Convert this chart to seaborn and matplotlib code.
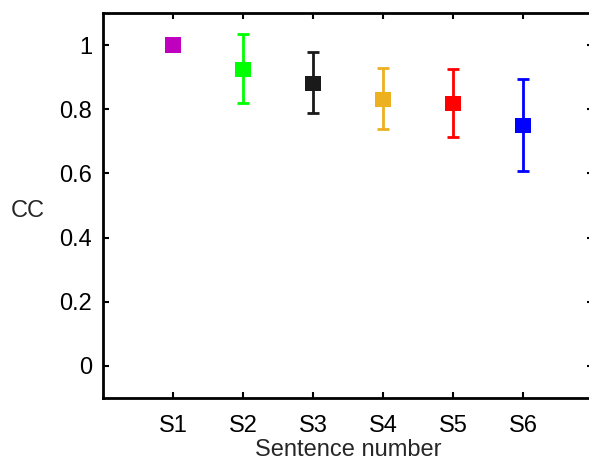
import matplotlib
matplotlib.use("Agg")
import matplotlib.pyplot as plt
import seaborn as sns
import pandas as pd
import numpy as np

sentences = ["S1", "S2", "S3", "S4", "S5", "S6"]
cc_mean = [1.0, 0.925, 0.881, 0.831, 0.819, 0.75]
cc_upper = [1.0, 1.034, 0.978, 0.928, 0.925, 0.894]
cc_lower = [1.0, 0.819, 0.788, 0.738, 0.713, 0.606]
colors = ["#BF00BF", "#00FF00", "#1A1A1A", "#EDB120", "#FF0000", "#0000FF"]
yticks = [0, 0.2, 0.4, 0.6, 0.8, 1]
ytick_labels = ["0", "0.2", "0.4", "0.6", "0.8", "1"]

sns.set_style("ticks")
plt.rcParams['font.family'] = ['Liberation Sans', 'DejaVu Sans']

df = pd.DataFrame({"pos": np.arange(1, len(sentences) + 1),
                   "sentence": sentences, "cc": cc_mean,
                   "up": cc_upper, "lo": cc_lower})

fig = plt.figure(figsize=(5.89, 4.62), dpi=100)
ax = fig.add_axes([103/589, 1 - 398/462, (593-103)/589, (398-13)/462])

for i, row in df.iterrows():
    if row.up != row.cc:
        ax.errorbar(row.pos, row.cc, yerr=[[row.cc - row.lo], [row.up - row.cc]],
                    fmt='none', ecolor=colors[i], elinewidth=2, capsize=4.5,
                    capthick=2, zorder=2)

sns.scatterplot(data=df, x="pos", y="cc", hue="sentence", palette=colors,
                marker="s", s=120, edgecolor="none", legend=False, ax=ax, zorder=3)

ax.set_xlim(0, 7)
ax.set_ylim(-0.1, 1.1)
ax.set_xticks(df["pos"])
ax.set_xticklabels(sentences)
ax.set_yticks(yticks)
ax.set_yticklabels(ytick_labels)
ax.tick_params(direction="in", length=4, width=1.5, labelsize=17,
               top=True, right=True, colors="black")
ax.tick_params(axis="x", pad=12)
ax.tick_params(axis="y", pad=8)
for s in ax.spines.values():
    s.set_linewidth(2)
    s.set_color("black")
ax.set_xlabel("Sentence number", fontsize=17, labelpad=2)
ax.set_ylabel("CC", fontsize=17, rotation=0, labelpad=0, va="center")
ax.yaxis.set_label_coords(-(103 - 28) / 490, (398 - 211) / 385)

fig.savefig("out.png", dpi=100)
